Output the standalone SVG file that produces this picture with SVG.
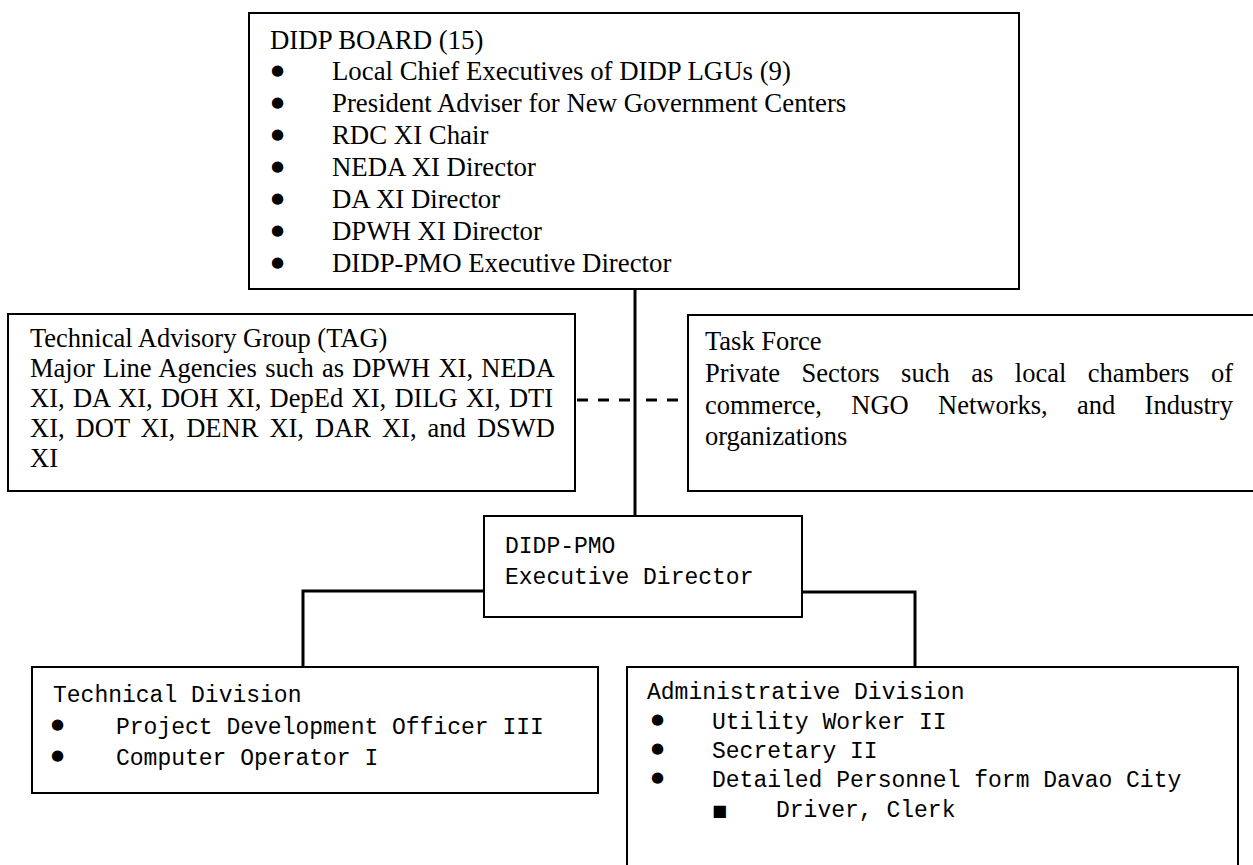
<svg xmlns="http://www.w3.org/2000/svg" width="1253" height="865" viewBox="0 0 1253 865">
<style>
.box{fill:#fff;stroke:#000;stroke-width:2}
.conn{fill:none;stroke:#000;stroke-width:3}
.dash{fill:none;stroke:#000;stroke-width:3;stroke-dasharray:11 10}
.serif{font-family:"Liberation Serif","Times New Roman",serif;font-size:26.5px;fill:#000}
.top{font-size:26.8px}
.mono{font-family:"Liberation Mono","Courier New",monospace;font-size:23px;fill:#000}
.bul{font-family:"DejaVu Sans",sans-serif;font-size:15px;fill:#000}
.sq{font-family:"DejaVu Sans",sans-serif;font-size:16px;fill:#000}
</style>
<rect width="1253" height="865" fill="#fff"/>
<g id="connectors">
<line class="conn" x1="635" y1="289" x2="635" y2="516"/>
<path class="dash" d="M577,400 L632,400"/>
<path class="dash" d="M678,400 L640,400"/>
<path class="conn" d="M484,591 L303,591 L303,667"/>
<path class="conn" d="M802,592 L915,592 L915,667"/>
</g>
<g id="board">
<rect class="box" x="249" y="13" width="770" height="276"/>
<text class="serif top" x="270" y="49">DIDP BOARD (15)</text>
<g class="bul">
<text x="271" y="75">●</text><text x="271" y="107">●</text><text x="271" y="139">●</text><text x="271" y="171">●</text><text x="271" y="203">●</text><text x="271" y="235">●</text><text x="271" y="267">●</text>
</g>
<text class="serif top" x="332" y="80">Local Chief Executives of DIDP LGUs (9)</text>
<text class="serif top" x="332" y="112">President Adviser for New Government Centers</text>
<text class="serif top" x="332" y="144">RDC XI Chair</text>
<text class="serif top" x="332" y="176">NEDA XI Director</text>
<text class="serif top" x="332" y="208">DA XI Director</text>
<text class="serif top" x="332" y="240">DPWH XI Director</text>
<text class="serif top" x="332" y="272">DIDP-PMO Executive Director</text>
</g>
<g id="tag">
<rect class="box" x="8" y="314" width="567" height="177"/>
<text class="serif" x="30" y="347">Technical Advisory Group (TAG)</text>
<text class="serif" x="30" y="377" word-spacing="1.6">Major Line Agencies such as DPWH XI, NEDA</text>
<text class="serif" x="30" y="407" word-spacing="1.7">XI, DA XI, DOH XI, DepEd XI, DILG XI, DTI</text>
<text class="serif" x="30" y="437" word-spacing="4.4">XI, DOT XI, DENR XI, DAR XI, and DSWD</text>
<text class="serif" x="30" y="467">XI</text>
</g>
<g id="taskforce">
<rect class="box" x="688" y="315" width="580" height="176"/>
<text class="serif" x="705" y="350">Task Force</text>
<text class="serif" x="705" y="382" word-spacing="14.9">Private Sectors such as local chambers of</text>
<text class="serif" x="705" y="414" word-spacing="22.7">commerce, NGO Networks, and Industry</text>
<text class="serif" x="705" y="445">organizations</text>
</g>
<g id="pmo">
<rect class="box" x="484" y="516" width="318" height="101"/>
<text class="mono" x="505" y="553">DIDP-PMO</text>
<text class="mono" x="505" y="584">Executive Director</text>
</g>
<g id="technical">
<rect class="box" x="32" y="667" width="566" height="126"/>
<text class="mono" x="53" y="702">Technical Division</text>
<text class="bul" x="51" y="729">●</text>
<text class="bul" x="51" y="760">●</text>
<text class="mono" x="116" y="734">Project Development Officer III</text>
<text class="mono" x="116" y="765">Computer Operator I</text>
</g>
<g id="administrative">
<rect class="box" x="627" y="667" width="611" height="210"/>
<text class="mono" x="647" y="699">Administrative Division</text>
<text class="bul" x="651" y="724">●</text>
<text class="bul" x="651" y="753">●</text>
<text class="bul" x="651" y="782">●</text>
<text class="mono" x="712" y="729">Utility Worker II</text>
<text class="mono" x="712" y="758">Secretary II</text>
<text class="mono" x="712" y="787">Detailed Personnel form Davao City</text>
<text class="sq" x="712" y="816">■</text>
<text class="mono" x="776" y="817">Driver, Clerk</text>
</g>
</svg>
